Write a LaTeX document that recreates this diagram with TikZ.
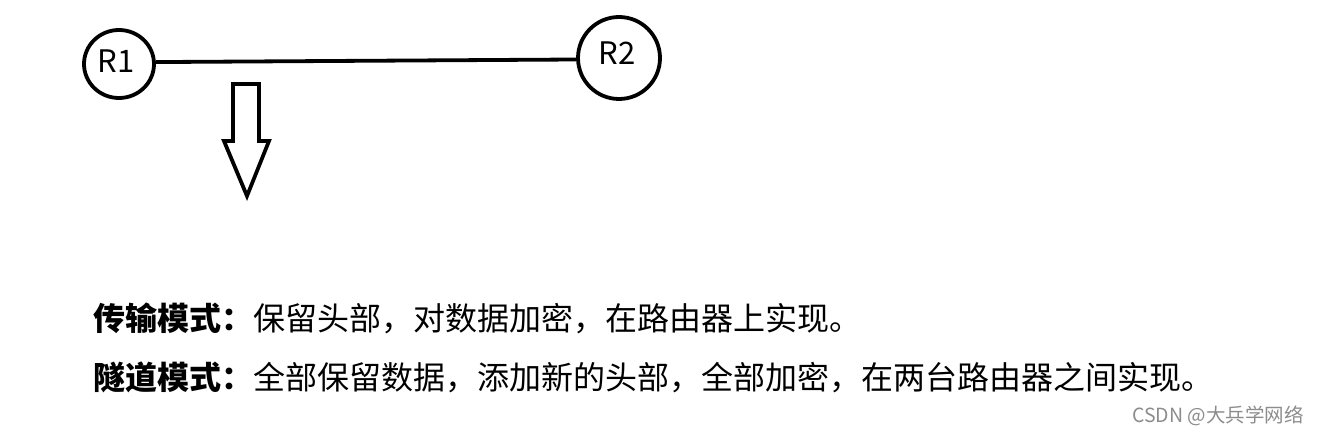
\documentclass[tikz,border=0pt]{standalone}
\usepackage{fontspec}
\setmainfont{Noto Sans CJK SC}
\usetikzlibrary{shapes.geometric}
\begin{document}
\begin{tikzpicture}[x=1pt,y=-1pt,
  router/.style={draw,line width=3.8pt,ellipse,inner sep=0pt},
  link/.style={line width=3.8pt},
  body/.style={anchor=west,inner sep=0pt,font=\fontsize{32}{36}\selectfont},
  lbl/.style={inner sep=0pt,font=\fontsize{31}{34}\selectfont}]
\useasboundingbox (0,0) rectangle (1321,435);
\node[router,minimum width=70pt,minimum height=68pt] (r1) at (119,64) {};
\node[lbl] (r1t) at (116,61) {R1};
\node[router,minimum width=82pt,minimum height=82pt] (r2) at (619,58) {};
\node[lbl] (r2t) at (617,53) {R2};
\draw[link] (r1.3) -- (r2.182);
\draw[line width=3.8pt,line join=miter] (233,84) -- (259,84) -- (259,141) -- (269,141) -- (247,196) -- (224,141) -- (233,141) -- cycle;
\node[body] (l1) at (93,318) {\textbf{传输模式：}保留头部，对数据加密，在路由器上实现。};
\node[body] (l2) at (93,377) {\textbf{隧道模式：}全部保留数据，添加新的头部，全部加密，在两台路由器之间实现。};
\node[anchor=east,inner sep=0pt,text=black!45,font=\fontsize{19.5}{22}\selectfont] (wm) at (1304,416) {CSDN @大兵学网络};
\end{tikzpicture}
\end{document}
